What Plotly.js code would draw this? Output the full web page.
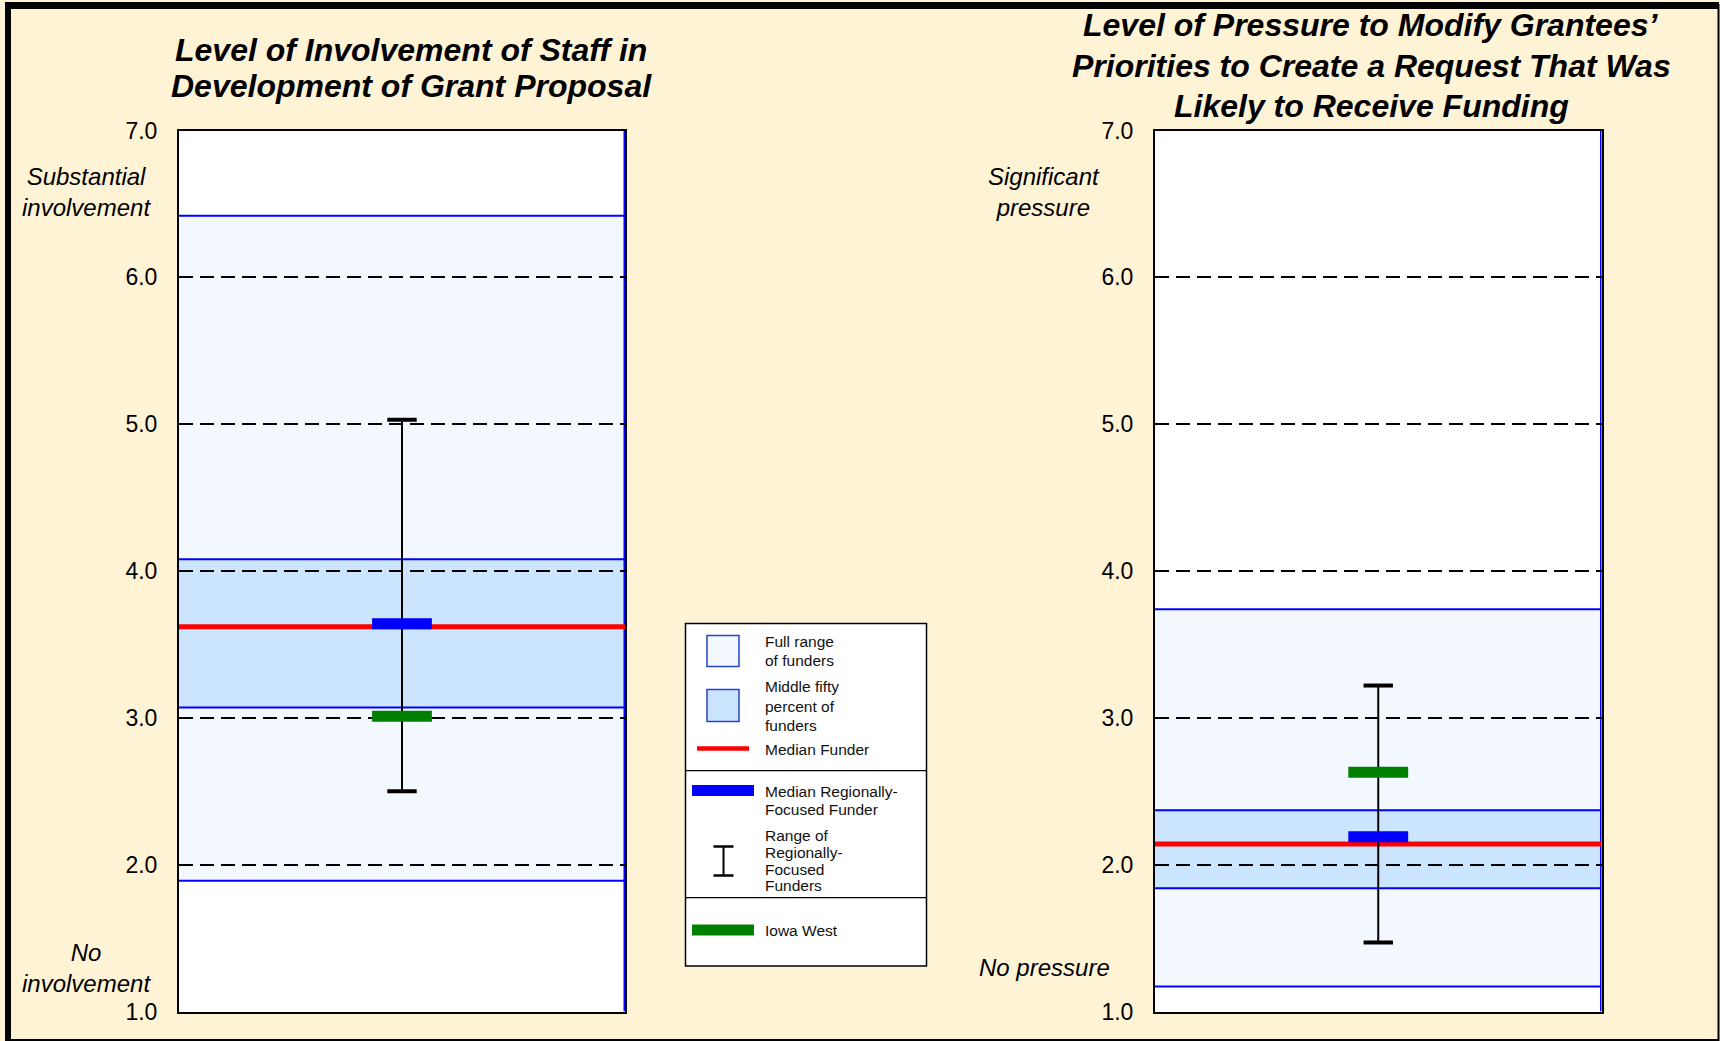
<!DOCTYPE html>
<html>
<head>
<meta charset="utf-8">
<script src="https://cdn.plot.ly/plotly-3.0.1.min.js"></script>
<style>
  html, body { margin: 0; padding: 0; background: #FFF3D6; }
  #chart { width: 1720px; height: 1041px; }
</style>
</head>
<body>
<div id="chart"></div>
<script>
// ---------------- DATA ----------------
const panelTitleLines = [
  ['Level of Involvement of Staff in', 'Development of Grant Proposal'],
  ['Level of Pressure to Modify Grantees\u2019', 'Priorities to Create a Request That Was', 'Likely to Receive Funding']
];
const topLabels = ['Substantial<br>involvement', 'Significant<br>pressure'];
const bottomLabels = ['No<br>involvement', 'No pressure'];
const yTickValues = [1, 2, 3, 4, 5, 6, 7];
const yTickLabels = ['1.0', '2.0', '3.0', '4.0', '5.0', '6.0', '7.0'];

const fullRangeLow  = [1.89, 1.17];
const fullRangeHigh = [6.42, 3.74];
const middleLow     = [3.07, 1.84];
const middleHigh    = [4.08, 2.37];
const medianFunder  = [3.62, 2.14];
const medianRegional = [3.64, 2.19];
const regionalMin   = [2.50, 1.47];
const regionalMax   = [5.03, 3.22];
const iowaWest      = [3.01, 2.63];

const legendItems = [
  ['Full range', 'of funders'],
  ['Middle fifty', 'percent of', 'funders'],
  ['Median Funder'],
  ['Median Regionally-', 'Focused Funder'],
  ['Range of', 'Regionally-', 'Focused', 'Funders'],
  ['Iowa West']
];

// ---------------- LAYOUT HELPERS ----------------
const W = 1720, H = 1041;
const px = v => v / W;
const py = v => 1 - v / H;

const C_BG = '#FFF3D6';
const C_FULL = '#F3F8FF';
const C_MID = '#CCE5FF';
const C_EDGE = '#0000FF';
const C_RED = '#FF0000';
const C_BLUE = '#0000FF';
const C_GREEN = '#008000';
const FONT = 'Liberation Sans, Arial, sans-serif';

const plotX = [[179, 625], [1155, 1601.5]];
const plotY = [130.5, 1011.5];
const titleX = [411, 1371];
const titleLineY = [[49.5, 86], [25, 66.5, 106]];
const labelX = [86, 1044];

const traces = [];
const shapes = [];
const annotations = [];
const layout = {
  width: W, height: H,
  margin: {l: 0, r: 0, t: 0, b: 0},
  paper_bgcolor: C_BG,
  plot_bgcolor: '#FFFFFF',
  showlegend: false,
  font: {family: FONT, color: '#000'}
};

const barHalf = 0.067;

for (let i = 0; i < 2; i++) {
  const sfx = i === 0 ? '' : String(i + 1);
  const xa = 'x' + sfx, ya = 'y' + sfx;
  layout['xaxis' + sfx] = {
    domain: [px(plotX[i][0]), px(plotX[i][1])],
    range: [0, 1], showgrid: false, zeroline: false,
    showticklabels: false, ticks: '',
    showline: true, mirror: true, linecolor: '#000', linewidth: 2,
    anchor: ya, fixedrange: true
  };
  layout['yaxis' + sfx] = {
    domain: [py(plotY[1]), py(plotY[0])],
    range: [1, 7], tickvals: yTickValues, ticktext: yTickLabels,
    ticks: 'outside', ticklen: 15, tickcolor: 'rgba(0,0,0,0)',
    tickfont: {family: FONT, size: 23, color: '#000'},
    showgrid: true, gridcolor: '#000', gridwidth: 2, griddash: '14px,7px',
    zeroline: false,
    showline: true, mirror: true, linecolor: '#000', linewidth: 2,
    anchor: xa, fixedrange: true
  };

  // Range fills
  shapes.push({type: 'rect', xref: xa, yref: ya, x0: 0, x1: 1,
    y0: fullRangeLow[i], y1: fullRangeHigh[i], fillcolor: C_FULL,
    line: {width: 0}, layer: 'below'});
  shapes.push({type: 'rect', xref: xa, yref: ya, x0: 0, x1: 1,
    y0: middleLow[i], y1: middleHigh[i], fillcolor: C_MID,
    line: {width: 0}, layer: 'below'});
  [fullRangeLow[i], fullRangeHigh[i], middleLow[i], middleHigh[i]].forEach(v => {
    shapes.push({type: 'line', xref: xa, yref: ya, x0: 0, x1: 1, y0: v, y1: v,
      line: {color: C_EDGE, width: 2}, layer: 'below'});
  });
  // blue right edge
  shapes.push({type: 'line', xref: xa, yref: ya, x0: 1, x1: 1, y0: 1, y1: 7,
    line: {color: C_EDGE, width: 3}, layer: 'below'});

  // Median funder (red)
  traces.push({type: 'scatter', mode: 'lines', xaxis: xa, yaxis: ya,
    x: [0, 1], y: [medianFunder[i], medianFunder[i]],
    line: {color: C_RED, width: 5}, hoverinfo: 'skip'});
  // Range of regionally focused funders
  traces.push({type: 'scatter', mode: 'lines', xaxis: xa, yaxis: ya,
    x: [0.5, 0.5], y: [regionalMin[i], regionalMax[i]],
    line: {color: '#000', width: 2}, hoverinfo: 'skip'});
  traces.push({type: 'scatter', mode: 'markers', xaxis: xa, yaxis: ya,
    x: [0.5, 0.5], y: [regionalMin[i], regionalMax[i]],
    marker: {symbol: 'line-ew', size: 21, line: {color: '#000', width: 4}},
    hoverinfo: 'skip', cliponaxis: false});
  // Median regional (blue)
  traces.push({type: 'scatter', mode: 'lines', xaxis: xa, yaxis: ya,
    x: [0.5 - barHalf, 0.5 + barHalf], y: [medianRegional[i], medianRegional[i]],
    line: {color: C_BLUE, width: 11}, hoverinfo: 'skip'});
  // Iowa West (green)
  traces.push({type: 'scatter', mode: 'lines', xaxis: xa, yaxis: ya,
    x: [0.5 - barHalf, 0.5 + barHalf], y: [iowaWest[i], iowaWest[i]],
    line: {color: C_GREEN, width: 11}, hoverinfo: 'skip'});

  // Titles (one annotation per line)
  panelTitleLines[i].forEach((t, j) => {
    annotations.push({xref: 'paper', yref: 'paper', x: px(titleX[i]), y: py(titleLineY[i][j]),
      xanchor: 'center', yanchor: 'middle', showarrow: false, align: 'center',
      text: '<b><i>' + t + '</i></b>',
      font: {family: FONT, size: 32, color: '#000'}});
  });
  // Scale end labels
  annotations.push({xref: 'paper', yref: 'paper', x: px(labelX[i]), y: py(192),
    xanchor: 'center', yanchor: 'middle', showarrow: false, align: 'center',
    text: '<i>' + topLabels[i] + '</i>', font: {family: FONT, size: 24, color: '#000'}});
  annotations.push({xref: 'paper', yref: 'paper', x: px(labelX[i]), y: py(i === 0 ? 968 : 967),
    xanchor: 'center', yanchor: 'middle', showarrow: false, align: 'center',
    text: '<i>' + bottomLabels[i] + '</i>', font: {family: FONT, size: 24, color: '#000'}});
}

// ---------------- LEGEND BOX ----------------
shapes.push({type: 'rect', xref: 'paper', yref: 'paper',
  x0: px(685.5), x1: px(926.5), y0: py(966), y1: py(623.5),
  fillcolor: '#FFFFFF', line: {color: '#000', width: 1.5}});
[770.7, 897.7].forEach(v => shapes.push({type: 'line', xref: 'paper', yref: 'paper',
  x0: px(685.5), x1: px(926.5), y0: py(v), y1: py(v), line: {color: '#000', width: 1.3}}));
// swatches
shapes.push({type: 'rect', xref: 'paper', yref: 'paper', x0: px(707), x1: px(739),
  y0: py(666.5), y1: py(635.5), fillcolor: C_FULL, line: {color: '#2244CC', width: 1.5}});
shapes.push({type: 'rect', xref: 'paper', yref: 'paper', x0: px(707), x1: px(739),
  y0: py(721.5), y1: py(689.5), fillcolor: C_MID, line: {color: '#2244CC', width: 1.5}});
shapes.push({type: 'line', xref: 'paper', yref: 'paper', x0: px(697), x1: px(749),
  y0: py(748.5), y1: py(748.5), line: {color: C_RED, width: 4.5}});
shapes.push({type: 'line', xref: 'paper', yref: 'paper', x0: px(692), x1: px(754),
  y0: py(790.5), y1: py(790.5), line: {color: C_BLUE, width: 11}});
shapes.push({type: 'line', xref: 'paper', yref: 'paper', x0: px(723.5), x1: px(723.5),
  y0: py(876), y1: py(846), line: {color: '#000', width: 2}});
[846.5, 875.5].forEach(v => shapes.push({type: 'line', xref: 'paper', yref: 'paper',
  x0: px(713.5), x1: px(733.5), y0: py(v), y1: py(v), line: {color: '#000', width: 2.5}}));
shapes.push({type: 'line', xref: 'paper', yref: 'paper', x0: px(692), x1: px(754),
  y0: py(930), y1: py(930), line: {color: C_GREEN, width: 11}});

const legendLineY = [
  [641.7, 660.7],
  [686.7, 706, 725.3],
  [749.3],
  [791.7, 809],
  [835, 852.3, 869, 885.7],
  [930]
];
legendItems.forEach((lines, k) => {
  lines.forEach((t, j) => {
    annotations.push({xref: 'paper', yref: 'paper', x: px(763), y: py(legendLineY[k][j]),
      xanchor: 'left', yanchor: 'middle', showarrow: false, text: t,
      font: {family: FONT, size: 15.5, color: '#111'}});
  });
});

// ---------------- OUTER FRAME ----------------
shapes.push({type: 'rect', xref: 'paper', yref: 'paper', x0: px(8), x1: px(1718.5),
  y0: py(1040), y1: py(5), line: {color: '#000', width: 2}});
shapes.push({type: 'rect', xref: 'paper', yref: 'paper', x0: px(5), x1: px(11),
  y0: py(1041), y1: py(2), fillcolor: '#000', line: {width: 0}});
shapes.push({type: 'rect', xref: 'paper', yref: 'paper', x0: px(5), x1: px(1719),
  y0: py(9), y1: py(2), fillcolor: '#000', line: {width: 0}});

layout.shapes = shapes;
layout.annotations = annotations;

Plotly.newPlot('chart', traces, layout, {displayModeBar: false, staticPlot: true});
</script>
</body>
</html>
